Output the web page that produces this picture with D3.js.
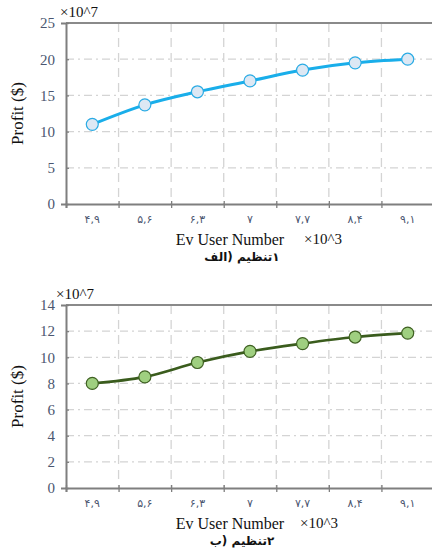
<!DOCTYPE html>
<html>
<head>
<meta charset="utf-8">
<script src="https://cdn.jsdelivr.net/npm/d3@7"></script>
<style>
  body { margin: 0; background: #fff; }
  svg { display: block; }
</style>
</head>
<body>
<div id="chart"></div>
<script>
// Data
var userLabels = ["۴,۹", "۵,۶", "۶,۳", "۷", "۷,۷", "۸,۴", "۹,۱"];
var profit1 = [11.0, 13.7, 15.5, 17.0, 18.5, 19.5, 20.0];
var profit2 = [8.0, 8.5, 9.6, 10.45, 11.05, 11.55, 11.85];
var yTicks1 = [0, 5, 10, 15, 20, 25];
var yTicks2 = [0, 2, 4, 6, 8, 10, 12, 14];
// captions in logical order for an rtl text run
var caption1 = "۱تنظیم (الف";
var caption2 = "۲تنظیم (ب";

var SERIF = "'Liberation Serif', 'Times New Roman', serif";

var svg = d3.select("#chart")
  .append("svg")
  .attr("width", 432)
  .attr("height", 548);

function drawPanel(opt) {
  var left = 66, right = 434;
  var top = opt.top, bottom = opt.bottom;

  var g = svg.append("g");

  // index scale: band boundaries at integers, points at i + 0.5
  var xScale = d3.scaleLinear().domain([0, userLabels.length]).range([left, right]);
  var yScale = d3.scaleLinear().domain([0, opt.yMax]).range([bottom, top]);

  // Gridlines - horizontal dash-dot
  g.append("g")
    .selectAll("line")
    .data(opt.yTicks.filter(function(d) { return d > 0 && d < opt.yMax; }))
    .enter().append("line")
    .attr("x1", left).attr("x2", right)
    .attr("y1", function(d) { return yScale(d); })
    .attr("y2", function(d) { return yScale(d); })
    .attr("stroke", "#d4d4d4")
    .attr("stroke-width", 1.3)
    .attr("stroke-dasharray", "8,4,2,4");

  // Gridlines - vertical dashed
  g.append("g")
    .selectAll("line")
    .data(d3.range(1, userLabels.length))
    .enter().append("line")
    .attr("x1", function(d) { return xScale(d); })
    .attr("x2", function(d) { return xScale(d); })
    .attr("y1", top).attr("y2", bottom)
    .attr("stroke", "#d4d4d4")
    .attr("stroke-width", 1.3)
    .attr("stroke-dasharray", "9,6");

  // Top border
  g.append("line")
    .attr("x1", left).attr("x2", right)
    .attr("y1", top).attr("y2", top)
    .attr("stroke", "#8a8a8a")
    .attr("stroke-width", 1.8);

  // y axis
  var yAxis = g.append("g")
    .attr("transform", "translate(" + left + ",0)")
    .call(d3.axisLeft(yScale).tickValues(opt.yTicks).tickSize(5).tickPadding(6));
  yAxis.select(".domain").attr("stroke", "#7f7f7f").attr("stroke-width", 2);
  yAxis.selectAll(".tick line").attr("x2", 3).attr("stroke", "#7f7f7f").attr("stroke-width", 1.3);
  yAxis.selectAll(".tick text")
    .attr("fill", "#4b5670")
    .style("font-family", SERIF)
    .style("font-size", "15px");

  // x axis - ticks at band boundaries
  var xAxis = g.append("g")
    .attr("transform", "translate(0," + bottom + ")")
    .call(d3.axisBottom(xScale).tickValues(d3.range(0, userLabels.length)).tickSize(4).tickFormat(""));
  xAxis.select(".domain").attr("stroke", "#7f7f7f").attr("stroke-width", 2);
  xAxis.selectAll(".tick line").attr("y1", -3).attr("stroke", "#7f7f7f").attr("stroke-width", 1.3);

  // x tick labels at band centres
  g.append("g")
    .selectAll("text")
    .data(userLabels)
    .enter().append("text")
    .attr("x", function(d, i) { return xScale(i + 0.5); })
    .attr("y", bottom + 19)
    .attr("text-anchor", "middle")
    .attr("fill", "#4b5670")
    .style("font-family", "'DejaVu Sans', sans-serif")
    .style("font-size", "11px")
    .text(function(d) { return d; });

  // Line
  var line = d3.line()
    .x(function(d, i) { return xScale(i + 0.5); })
    .y(function(d) { return yScale(d); })
    .curve(d3.curveMonotoneX);

  g.append("path")
    .datum(opt.values)
    .attr("fill", "none")
    .attr("stroke", opt.lineColor)
    .attr("stroke-width", opt.lineWidth)
    .attr("d", line);

  // Markers
  g.append("g")
    .selectAll("circle")
    .data(opt.values)
    .enter().append("circle")
    .attr("cx", function(d, i) { return xScale(i + 0.5); })
    .attr("cy", function(d) { return yScale(d); })
    .attr("r", 6)
    .attr("fill", opt.markerFill)
    .attr("stroke", opt.markerStroke)
    .attr("stroke-width", 1.2);

  // Labels
  g.append("text")
    .attr("transform", "translate(23," + ((top + bottom) / 2) + ") rotate(-90)")
    .attr("text-anchor", "middle")
    .style("font-family", SERIF)
    .style("font-size", "17px")
    .attr("fill", "#111")
    .text("Profit ($)");

  g.append("text")
    .attr("x", opt.expX)
    .attr("y", top - 6)
    .style("font-family", SERIF)
    .style("font-size", "15px")
    .attr("fill", "#111")
    .text("×10^7");

  g.append("text")
    .attr("x", 230)
    .attr("y", bottom + 41)
    .attr("text-anchor", "middle")
    .style("font-family", SERIF)
    .style("font-size", "16px")
    .attr("fill", "#111")
    .text("Ev User Number");

  g.append("text")
    .attr("x", opt.exp3X)
    .attr("y", bottom + 40)
    .style("font-family", SERIF)
    .style("font-size", "15px")
    .attr("fill", "#111")
    .text("×10^3");

  g.append("text")
    .attr("x", 242)
    .attr("y", bottom + 57)
    .attr("direction", "rtl")
    .attr("text-anchor", "middle")
    .style("font-family", "'DejaVu Sans', sans-serif")
    .style("font-size", "12px")
    .style("font-weight", "bold")
    .attr("fill", "#111")
    .text(opt.caption);
}

drawPanel({
  top: 23, bottom: 204, yMax: 25, yTicks: yTicks1, values: profit1,
  lineColor: "#19aeea", lineWidth: 3, markerFill: "#dde8f4", markerStroke: "#2aabe4",
  expX: 60, exp3X: 304, caption: caption1
});

drawPanel({
  top: 305, bottom: 488, yMax: 14, yTicks: yTicks2, values: profit2,
  lineColor: "#3a5c1d", lineWidth: 2.6, markerFill: "#9fcf80", markerStroke: "#3f6122",
  expX: 56, exp3X: 300, caption: caption2
});
</script>
</body>
</html>
